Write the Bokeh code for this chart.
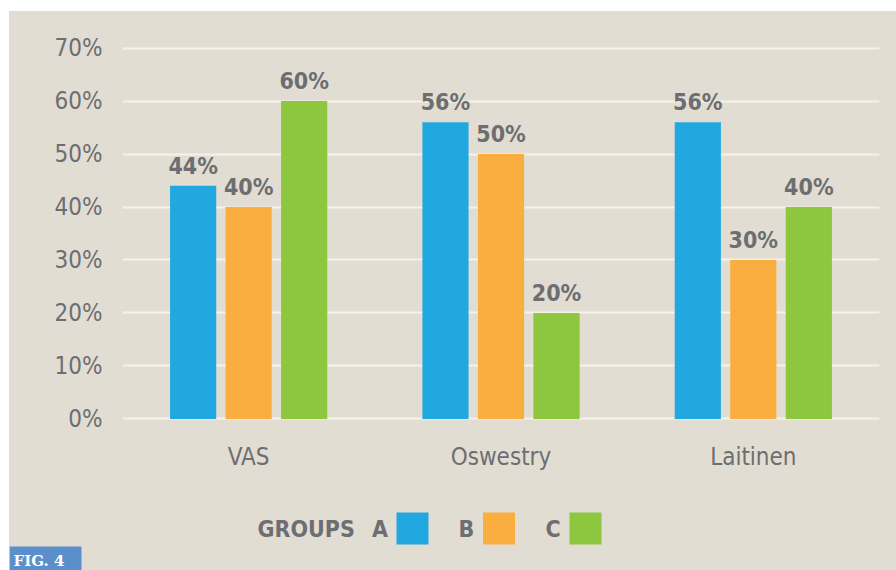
from bokeh.plotting import figure
from bokeh.models import (ColumnDataSource, FactorRange, Range1d, FixedTicker,
                          PrintfTickFormatter, Spacer)
from bokeh.transform import dodge
from bokeh.layouts import column, row
from bokeh.embed import file_html
from bokeh.resources import INLINE
from bokeh.core.properties import value

# ---- data ----
categories = ["VAS", "Oswestry", "Laitinen"]
groups = ["A", "B", "C"]
group_a = [44, 56, 56]
group_b = [40, 50, 30]
group_c = [60, 20, 40]
y_ticks = [0, 10, 20, 30, 40, 50, 60, 70]
legend_title = "GROUPS"
fig_tag = "FIG. 4"

# ---- style ----
BG = "#e2ddd2"
GRID = "#f5f2ec"
TXT = "#6d6e71"
COLORS = ["#22a8e0", "#fbae40", "#8dc63f"]
TAG = "#5b8fcc"
FONT = "DejaVu Sans Condensed, Roboto Condensed, Roboto"

W = 887
series = [group_a, group_b, group_c]
data = {"cat": categories}
for g, vals in zip(groups, series):
    data[g] = vals
    data[g + "_lbl"] = ["%d%%" % v for v in vals]
src = ColumnDataSource(data)

p = figure(x_range=FactorRange(*categories), y_range=Range1d(-0.3, 70.3),
           width=W, height=479, output_backend="svg", toolbar_location=None,
           min_border_left=113, min_border_right=17,
           min_border_top=35, min_border_bottom=70)
p.background_fill_color = BG
p.border_fill_color = BG
p.outline_line_color = None
p.frame_align = False

offsets = [-0.22, 0.0, 0.22]
for g, off, col in zip(groups, offsets, COLORS):
    xs = dodge("cat", off, range=p.x_range)
    p.vbar(x=xs, top=g, bottom=0, width=0.183, source=src, fill_color=col, line_color=None)
    p.text(x=xs, y=g, text=g + "_lbl", source=src, text_align="center",
           text_baseline="bottom", y_offset=-7, text_color=TXT,
           text_font=value(FONT), text_font_style="bold", text_font_size="23px")

p.xgrid.grid_line_color = None
p.ygrid.grid_line_color = GRID
p.ygrid.grid_line_width = 2
p.yaxis.ticker = FixedTicker(ticks=y_ticks)
p.yaxis.formatter = PrintfTickFormatter(format="%d%%")
for ax in (p.xaxis, p.yaxis):
    ax.axis_line_color = None
    ax.major_tick_line_color = None
    ax.minor_tick_line_color = None
    ax.major_tick_out = 0
    ax.major_tick_in = 0
    ax.major_label_text_color = TXT
    ax.major_label_text_font = FONT
p.yaxis.major_label_text_font_size = "24px"
p.yaxis.major_label_standoff = 20
p.xaxis.major_label_text_font_size = "24px"
p.xaxis.major_label_standoff = 22

# ---- legend strip (pixel-unit ranges, y downward) ----
LH = 80
lg = figure(x_range=Range1d(0, W), y_range=Range1d(LH, 0), width=W, height=LH,
            output_backend="svg", toolbar_location=None, min_border=0)
lg.background_fill_color = BG
lg.border_fill_color = BG
lg.outline_line_color = None
lg.axis.visible = False
lg.grid.visible = False
lg.frame_align = False

mid = 38
step = 86.5
lg.text(x=[248], y=[mid], text=[legend_title], text_align="left",
        text_baseline="middle", text_color=TXT, text_font=value(FONT),
        text_font_style="bold", text_font_size="23px")
letter_x = [370.5 + i * step for i in range(len(groups))]
box_x = [403 + i * step for i in range(len(groups))]
lg.text(x=letter_x, y=[mid] * len(groups), text=groups, text_align="center",
        text_baseline="middle", text_color=TXT, text_font=value(FONT),
        text_font_style="bold", text_font_size="23px")
lg.rect(x=box_x, y=[mid] * len(groups), width=32, height=32,
        fill_color=COLORS, line_color=None)

# FIG. 4 tag
lg.quad(left=[0], right=[72], top=[56], bottom=[LH], fill_color=TAG, line_color=None)
lg.text(x=[4], y=[70], text=[fig_tag], text_align="left", text_baseline="middle",
        text_color="white", text_font=value("DejaVu Serif"), text_font_style="bold",
        text_font_size="15px")

panel = column(p, lg, styles={"background-color": BG})
layout = row(Spacer(width=9, height=570),
             column(Spacer(width=W, height=11), panel))
open("out.html", "w").write(file_html(layout, INLINE))
